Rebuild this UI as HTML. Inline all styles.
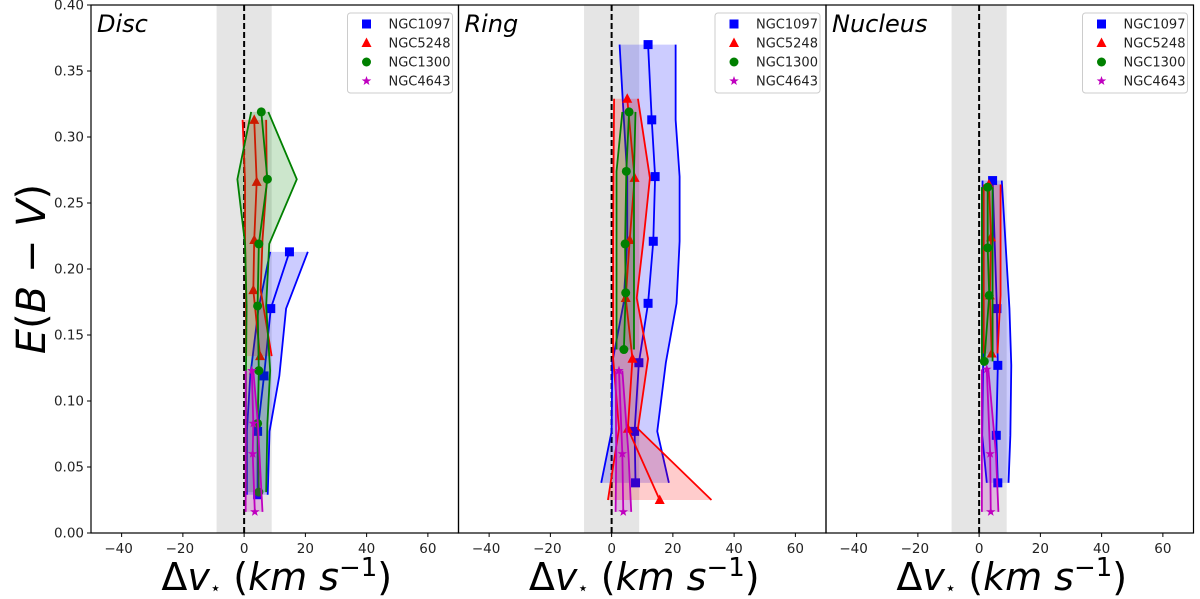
<!DOCTYPE html>
<html><head><meta charset="utf-8"><style>
html,body{margin:0;padding:0;background:#fff;}
svg{display:block;font-family:"DejaVu Sans","Liberation Sans",sans-serif;}
</style></head><body>
<svg id="chart" width="1200" height="599" viewBox="0 0 1200 599"></svg>
<script>
const panelTitles = ["Disc","Ring","Nucleus"];
const seriesNames = ["NGC1097","NGC5248","NGC1300","NGC4643"];
const seriesColors = ["#0000ff","#ff0000","#008000","#bf00bf"];
const xTicks = [-40,-20,0,20,40,60];
const yTicks = [0,0.05,0.10,0.15,0.20,0.25,0.30,0.35,0.40];
const discE = [[0.213,0.170,0.119,0.077,0.029],[0.313,0.266,0.222,0.184,0.134],[0.319,0.268,0.219,0.172,0.123,0.083,0.031],[0.123,0.083,0.060,0.016]];
const discV = [[14.8,8.7,6.5,4.4,4.4],[3.3,4.1,3.3,3.0,5.2],[5.6,7.6,4.8,4.4,4.8,4.4,4.8],[2.5,3.0,2.8,3.5]];
const discLo = [[8.5,4.7,2.0,0.9,0.9],[-0.5,0.3,0.3,0.6,0.6],[2.3,-2.2,0.3,0.8,0.6,0.6,0.6],[0.5,0.5,0.5,0.5]];
const discHi = [[20.8,13.7,11.5,8.3,7.7],[7.2,7.4,6.0,5.4,9.0],[7.9,17.2,8.2,7.2,8.5,7.6,7.2],[3.0,4.5,5.0,6.0]];
const ringE = [[0.370,0.313,0.270,0.221,0.174,0.129,0.077,0.038],[0.329,0.269,0.222,0.178,0.132,0.079,0.025],[0.319,0.274,0.219,0.182,0.139],[0.123,0.060,0.016]];
const ringV = [[11.9,13.1,14.2,13.6,11.9,8.9,7.5,7.8],[5.1,7.5,5.9,4.6,6.8,5.3,15.7],[5.7,4.8,4.4,4.6,4.0],[2.4,3.5,3.8]];
const ringLo = [[2.6,4.0,5.1,5.1,3.9,0.2,0.0,-3.4],[0.8,0.6,0.5,0.5,0.5,2.4,-1.2],[3.5,1.6,1.6,1.6,1.6],[1.3,1.5,1.3]];
const ringHi = [[20.9,20.9,22.2,22.2,21.2,17.7,14.9,18.7],[8.6,12.5,10.4,8.2,11.9,8.6,32.6],[7.8,7.3,7.3,7.3,7.3],[3.5,5.5,6.4]];
const nucE = [[0.267,0.170,0.127,0.074,0.038],[0.264,0.224,0.180,0.136],[0.262,0.216,0.180,0.130],[0.124,0.060,0.016]];
const nucV = [[4.4,5.8,6.1,5.6,6.1],[3.2,3.9,3.5,4.1],[2.8,2.8,3.3,1.7],[2.5,3.6,3.8]];
const nucLo = [[1.1,1.3,1.3,1.0,2.5],[1.5,1.5,1.5,1.5],[0.9,0.9,0.9,0.9],[0.9,0.9,0.9]];
const nucHi = [[7.4,9.9,10.5,10.2,9.6],[7.0,7.0,7.0,6.0],[4.4,4.4,4.4,4.4],[3.0,5.5,6.3]];

const panelsE=[discE,ringE,nucE], panelsV=[discV,ringV,nucV], panelsLo=[discLo,ringLo,nucLo], panelsHi=[discHi,ringHi,nucHi];
const NS="http://www.w3.org/2000/svg";
const svg=document.getElementById('chart');
function mk(tag,attrs,parent){const e=document.createElementNS(NS,tag);for(const k in attrs)e.setAttribute(k,attrs[k]);(parent||svg).appendChild(e);return e;}
const panelLeft=[91,458.5,826], pw=367.5, yTop=5, yBottom=533;
const xMin=-50,xMax=70,yMin=0,yMax=0.4;
function yS(v){return yBottom-(v-yMin)/(yMax-yMin)*(yBottom-yTop);}
function marker(g,type,x,y,c){
  let m;
  if(type===0) m=mk('rect',{x:x-4.5,y:y-4.5,width:9,height:9,fill:c},g);
  else if(type===1) m=mk('polygon',{points:`${x},${y-5.5} ${x+5},${y+4} ${x-5},${y+4}`,fill:c},g);
  else if(type===2) m=mk('circle',{cx:x,cy:y,r:4.5,fill:c},g);
  else {let p=[];for(let i=0;i<10;i++){const r=i%2?2:5,a=-Math.PI/2+i*Math.PI/5;p.push((x+r*Math.cos(a)).toFixed(1)+','+(y+r*Math.sin(a)).toFixed(1));}m=mk('polygon',{points:p.join(' '),fill:c},g);}
  return m;
}
for(let p=0;p<3;p++){
  const L=panelLeft[p];
  const xS=v=>L+(v-xMin)/(xMax-xMin)*pw;
  const g=mk('g',{});
  
  
  const band=mk('rect',{x:xS(-9),y:yTop,width:xS(9)-xS(-9),height:yBottom-yTop,fill:'#e5e5e5'},g);
  
  
  const zl=mk('line',{x1:xS(0),x2:xS(0),y1:yTop,y2:yBottom,stroke:'#000','stroke-width':2,'stroke-dasharray':'6,3'},g);
  
  
  for(let s=0;s<4;s++){
    const E=panelsE[p][s],V=panelsV[p][s],Lo=panelsLo[p][s],Hi=panelsHi[p][s],c=seriesColors[s];
    const sg=mk('g',{},g);
    
    
    let pts=[];
    for(let i=0;i<E.length;i++)pts.push(xS(Hi[i])+','+yS(E[i]));
    for(let i=E.length-1;i>=0;i--)pts.push(xS(Lo[i])+','+yS(E[i]));
    const area=mk('polygon',{points:pts.join(' '),fill:c,'fill-opacity':0.2,stroke:'none'},sg);
    
    
    const lo=mk('polyline',{points:E.map((e,i)=>xS(Lo[i])+','+yS(e)).join(' '),fill:'none',stroke:c,'stroke-width':1.8},sg);
    
    
    const hi=mk('polyline',{points:E.map((e,i)=>xS(Hi[i])+','+yS(e)).join(' '),fill:'none',stroke:c,'stroke-width':1.8},sg);
    
    
    const ln=mk('polyline',{points:E.map((e,i)=>xS(V[i])+','+yS(e)).join(' '),fill:'none',stroke:c,'stroke-width':1.8},sg);
    
    
    for(let i=0;i<E.length;i++){
      const m=marker(sg,s,xS(V[i]),yS(E[i]),c);
      
      
    }
  }
  const fr=mk('rect',{x:L,y:yTop,width:pw,height:yBottom-yTop,fill:'none',stroke:'#000','stroke-width':1.2},g);
  
  
  for(const t of xTicks){
    mk('line',{x1:xS(t),x2:xS(t),y1:yBottom,y2:yBottom+4,stroke:'#000'},g);
    const tx=mk('text',{x:xS(t)-(t<0?3:0),y:553,'font-size':13.5,'text-anchor':'middle',fill:'#222'},g);
    tx.textContent=(t<0?'\u2212':'')+Math.abs(t);
    
    
  }
  const xl=mk('text',{x:L+pw/2+2,y:590,'font-size':38,'text-anchor':'middle',fill:'#000'},g);
  xl.innerHTML='\u0394<tspan font-style="italic">v</tspan><tspan font-size="18" dy="4">\u22c6</tspan><tspan dy="-4"> (</tspan><tspan font-style="italic">km s</tspan><tspan font-size="26" dy="-14">\u22121</tspan><tspan dy="14">)</tspan>';
  
  
  const tt=mk('text',{x:L+6,y:32,'font-size':24,'font-style':'italic',fill:'#000'},g);
  tt.textContent=panelTitles[p];
  
  
  const lg=mk('g',{},g);
  
  
  const lx=L+pw-111;
  mk('rect',{x:lx,y:13,width:105,height:80,rx:3,fill:'#fff','fill-opacity':0.85,stroke:'#ccc'},lg);
  for(let s=0;s<4;s++){
    const ey=24+s*19;
    const lm=marker(lg,s,lx+19,ey,seriesColors[s]);
    
    
    const lt=mk('text',{x:lx+41,y:ey+4.5,'font-size':13,fill:'#222'},lg);
    lt.textContent=seriesNames[s];
    
    
  }
  if(p===0){
    for(const t of yTicks){
      mk('line',{x1:L-4,x2:L,y1:yS(t),y2:yS(t),stroke:'#000'},g);
      const ty=mk('text',{x:L-7,y:yS(t)+4.5,'font-size':13.5,'text-anchor':'end',fill:'#222'},g);
      ty.textContent=t.toFixed(2);
      
      
    }
  }
}
const yl=mk('text',{x:0,y:0,'font-size':40,'text-anchor':'middle',fill:'#000',transform:'translate(45,269) rotate(-90)'});
yl.innerHTML='<tspan font-style="italic">E</tspan>(<tspan font-style="italic">B</tspan> \u2212 <tspan font-style="italic">V</tspan>)';


</script>
</body></html>
